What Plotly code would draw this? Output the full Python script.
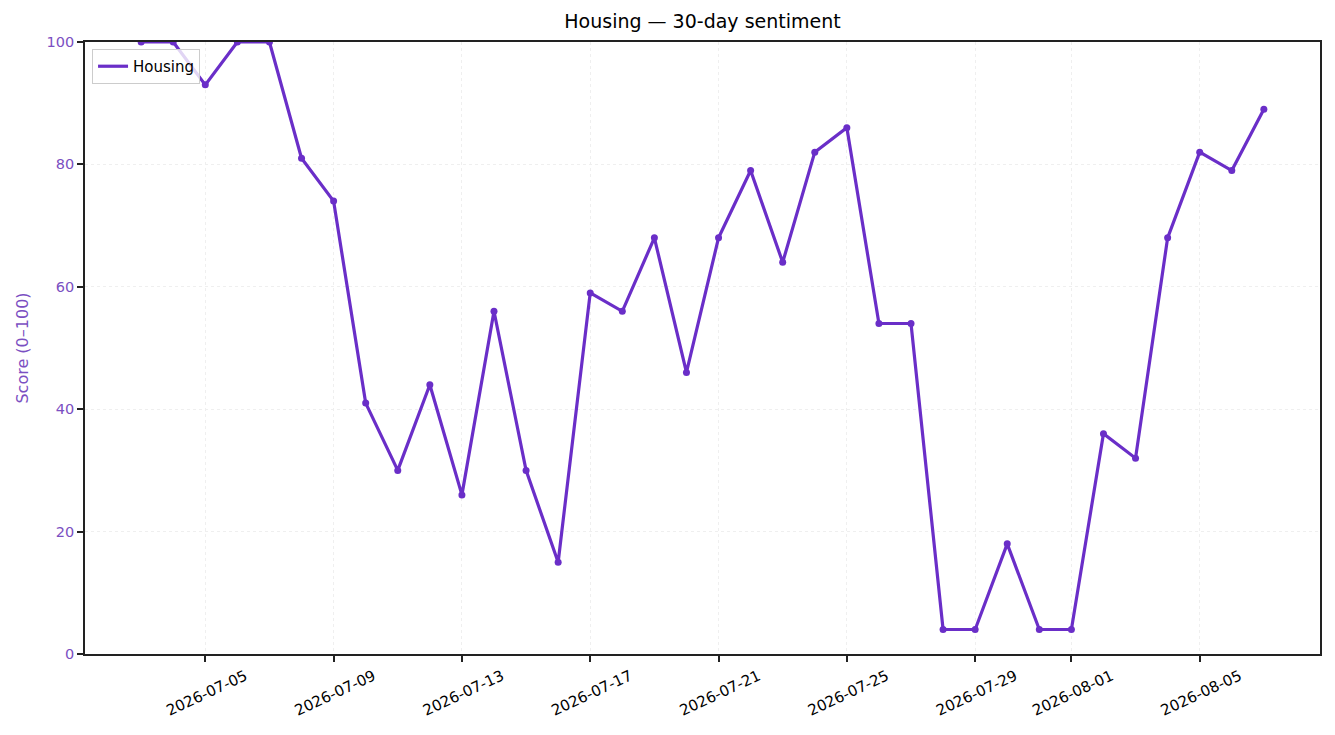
import plotly.graph_objects as go

dates = [
    "2026-07-03", "2026-07-04", "2026-07-05", "2026-07-06", "2026-07-07",
    "2026-07-08", "2026-07-09", "2026-07-10", "2026-07-11", "2026-07-12",
    "2026-07-13", "2026-07-14", "2026-07-15", "2026-07-16", "2026-07-17",
    "2026-07-18", "2026-07-19", "2026-07-20", "2026-07-21", "2026-07-22",
    "2026-07-23", "2026-07-24", "2026-07-25", "2026-07-26", "2026-07-27",
    "2026-07-28", "2026-07-29", "2026-07-30", "2026-07-31", "2026-08-01",
    "2026-08-02", "2026-08-03", "2026-08-04", "2026-08-05", "2026-08-06",
    "2026-08-07",
]
scores = [
    100, 100, 93, 100, 100, 81, 74, 41, 30, 44,
    26, 56, 30, 15, 59, 56, 68, 46, 68, 79,
    64, 82, 86, 54, 54, 4, 4, 18, 4, 4,
    36, 32, 68, 82, 79, 89,
]
tick_dates = [
    "2026-07-05", "2026-07-09", "2026-07-13", "2026-07-17", "2026-07-21",
    "2026-07-25", "2026-07-29", "2026-08-01", "2026-08-05",
]
y_ticks = [0, 20, 40, 60, 80, 100]

LINE = "#6a2ec8"
LABEL = "#7b4fc2"
FONT = "DejaVu Sans"

fig = go.Figure()
# line only (legend shows a plain line, like the reference)
fig.add_trace(go.Scatter(
    x=dates, y=scores, mode="lines", name="Housing",
    line=dict(color=LINE, width=3.2),
))
fig.add_trace(go.Scatter(
    x=dates, y=scores, mode="markers", showlegend=False,
    marker=dict(color=LINE, size=7),
))

# page body has an 8px margin, so the figure is a bit smaller than the window
fig.update_layout(
    width=1327, height=727,
    margin=dict(l=77, r=15, t=34, b=81),
    paper_bgcolor="white", plot_bgcolor="white",
    font=dict(family=FONT, size=14, color="black"),
    title=dict(text="Housing — 30-day sentiment", x=0.5, xref="paper",
               xanchor="center", y=0.981, yanchor="middle",
               font=dict(size=19, color="black")),
    showlegend=True,
    legend=dict(x=0.0057, y=0.9886, xanchor="left", yanchor="top",
                bgcolor="rgba(255,255,255,0.8)", bordercolor="#cccccc",
                borderwidth=1, font=dict(size=15, color="black"),
                itemwidth=30, tracegroupgap=0),
)
fig.update_xaxes(
    type="date",
    range=["2026-07-01 06:00", "2026-08-08 18:00"],
    tickvals=tick_dates, ticktext=tick_dates, tickangle=-25,
    ticklabelshift=40, ticklabelstandoff=0,
    ticks="outside", ticklen=6, tickwidth=1.5, tickcolor="#222222",
    tickfont=dict(size=15, color="black"),
    showline=True, linecolor="#222222", linewidth=1.8, mirror=True,
    showgrid=True, gridcolor="#efefef", griddash="dot", gridwidth=1,
    zeroline=False,
)
fig.update_yaxes(
    range=[0, 100], tickvals=y_ticks,
    ticks="outside", ticklen=6, tickwidth=1.5, tickcolor="#222222",
    tickfont=dict(size=14.5, color=LABEL),
    title=dict(text="Score (0–100)", font=dict(size=16, color=LABEL), standoff=14),
    showline=True, linecolor="#222222", linewidth=1.8, mirror=True,
    showgrid=True, gridcolor="#efefef", griddash="dot", gridwidth=1,
    zeroline=False,
)

fig.write_html("out.html")
